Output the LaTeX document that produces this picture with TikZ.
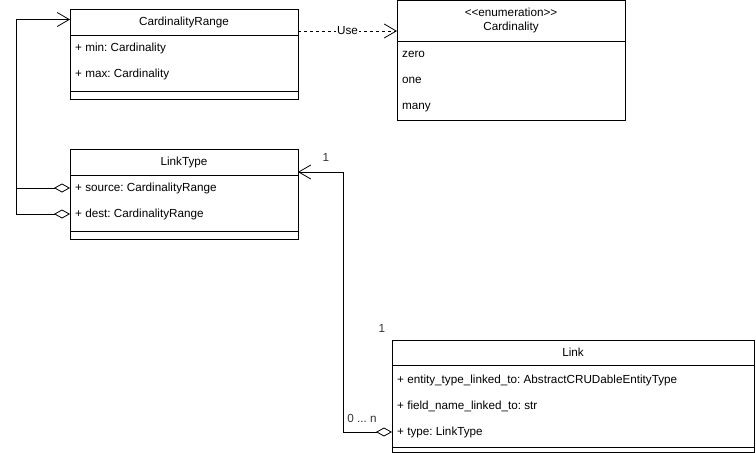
\documentclass[tikz,border=0pt]{standalone}
\usepackage{fontspec}
\setmainfont{Liberation Sans}
\frenchspacing
\usetikzlibrary{positioning,calc}
\usetikzlibrary{arrows.meta}
\tikzset{
	cls/.style={draw=black,fill=white,minimum width=228pt,inner sep=0pt,outer sep=0pt,line width=0.8pt},
	attr/.style={anchor=west,inner xsep=5pt,inner ysep=0pt,text height=8.5pt,text depth=2.5pt},
	mult/.style={text=black!80,inner sep=0pt},
	assoc/.style={draw=black,line width=0.8pt},
	openhead/.style={-{Straight Barb[length=12pt,width=14pt]}},
	aggr/.style={{Diamond[fill=white,length=16pt,width=9pt]}-},
	aggopen/.style={{Diamond[fill=white,length=16pt,width=9pt]}-{Straight Barb[length=12pt,width=14pt]}},
}

\begin{document}
\begin{tikzpicture}[x=1pt,y=-1pt,font=\fontsize{11.7}{14}\selectfont]
	\useasboundingbox (0,0) rectangle (756,453);
	% CardinalityRange
	\node[cls,minimum height=26pt] (crHead) at (184,22) {CardinalityRange};
	\node[cls,minimum height=56pt,below=0pt of crHead] (crBody) {};
	\node[cls,minimum height=8pt,below=0pt of crBody] (crFoot) {};
	\node[attr] (crMin) at ($(crBody.north west)+(0,13)$) {+ min: Cardinality};
	\node[attr] (crMax) at ($(crBody.north west)+(0,39)$) {+ max: Cardinality};
	% Cardinality
	\node[cls,minimum height=40.5pt,align=center] (cdHead) at (511,20.75) {{<}{<}enumeration{>}{>}\\Cardinality};
	\node[cls,minimum height=79pt,below=0pt of cdHead] (cdBody) {};
	\node[attr] (cdZero) at ($(cdBody.north west)+(0,13)$) {zero};
	\node[attr] (cdOne) at ($(cdBody.north west)+(0,39)$) {one};
	\node[attr] (cdMany) at ($(cdBody.north west)+(0,65)$) {many};
	% LinkType
	\node[cls,minimum height=26pt] (ltHead) at (184,162) {LinkType};
	\node[cls,minimum height=56pt,below=0pt of ltHead] (ltBody) {};
	\node[cls,minimum height=8pt,below=0pt of ltBody] (ltFoot) {};
	\node[attr] (ltSrc) at ($(ltBody.north west)+(0,13)$) {+ source: CardinalityRange};
	\node[attr] (ltDst) at ($(ltBody.north west)+(0,39)$) {+ dest: CardinalityRange};
	% Link
	\node[cls,minimum width=362pt,minimum height=25pt] (lkHead) at (573,352.5) {Link};
	\node[cls,minimum width=362pt,minimum height=82pt,below=0pt of lkHead] (lkBody) {};
	\node[cls,minimum width=362pt,minimum height=5pt,below=0pt of lkBody] (lkFoot) {};
	\node[attr] (lkEnt) at ($(lkBody.north west)+(0,15)$) {+ entity\_type\_linked\_to: AbstractCRUDableEntityType};
	\node[attr] (lkField) at ($(lkBody.north west)+(0,41)$) {+ field\_name\_linked\_to: str};
	\node[attr] (lkType) at ($(lkBody.north west)+(0,67)$) {+ type: LinkType};

	% connectors
	\coordinate (useOut) at ($(crHead.east)+(0,9)$);
	\draw[assoc,dash pattern=on 3pt off 3pt,openhead] (useOut) -- (useOut -| cdHead.west)
		node[midway,fill=white,inner sep=1pt] (useLbl) {Use};

	\coordinate (crIn) at ($(crHead.west)+(0,-2.5)$);
	\coordinate (loopX) at ($(ltSrc.west)+(-54,0)$);
	\draw[assoc,aggopen] (ltSrc.west) -- (loopX) |- (crIn);
	\draw[assoc,aggr] (ltDst.west) -| (loopX);

	\coordinate (ltIn) at ($(ltHead.east)+(0,10)$);
	\draw[assoc,aggopen] (lkType.west) -- ++(-49,0) |- (ltIn);
	\node[mult] (mTop) at ($(ltIn)+(28,-15)$) {1};
	\node[mult] (mMid) at ($(lkHead.north west)+(-10,-12)$) {1};
	\node[mult] (mLow) at ($(lkType.west)+(-30,-14)$) {0 ... n};
\end{tikzpicture}
\end{document}
